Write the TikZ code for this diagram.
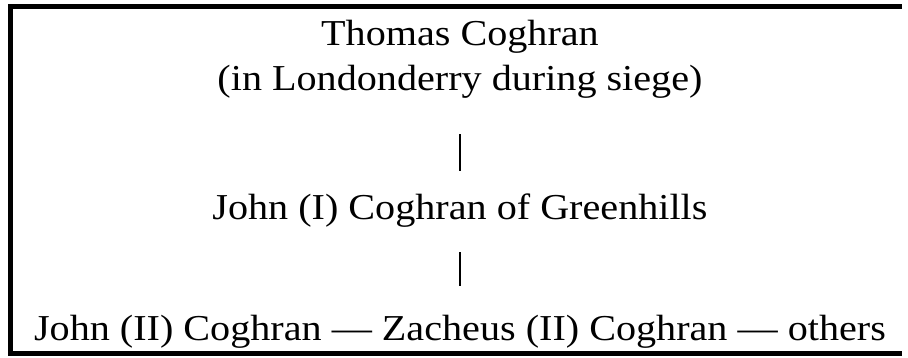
\documentclass[tikz,border=0pt]{standalone}
\usepackage{fontspec}
\setmainfont[FakeStretch=1.1]{Liberation Serif}
\begin{document}
\begin{tikzpicture}[x=1pt,y=-1pt,
  txt/.style={anchor=base,inner sep=0pt,outer sep=0pt,font=\fontsize{36.5}{44}\selectfont},
  frame/.style={line width=5pt,black},
  bar/.style={line width=1.4pt,black}]
\useasboundingbox (0,0) rectangle (908,358);
\coordinate (tr) at (902,6.5);
\coordinate (tl) at (10.5,6.5);
\coordinate (bl) at (10.5,353.5);
\coordinate (br) at (902,353.5);
\draw[frame] (tr) -- (tl) -- (bl) -- (br);
\node[txt] (l1) at (460,45.7) {Thomas Coghran};
\node[txt] (l2) at (460,90.7) {(in Londonderry during siege)};
\node[txt] (l4) at (460,219.7) {John (I) Coghran of Greenhills};
\node[txt] (l5) at (460,340.5) {John (II) Coghran — Zacheus (II) Coghran — others};
\coordinate (b1a) at (460,134.5);
\coordinate (b1b) at (460,171);
\coordinate (b2a) at (460,252.5);
\coordinate (b2b) at (460,286);
\draw[bar] (b1a) -- (b1b);
\draw[bar] (b2a) -- (b2b);
\end{tikzpicture}
\end{document}
